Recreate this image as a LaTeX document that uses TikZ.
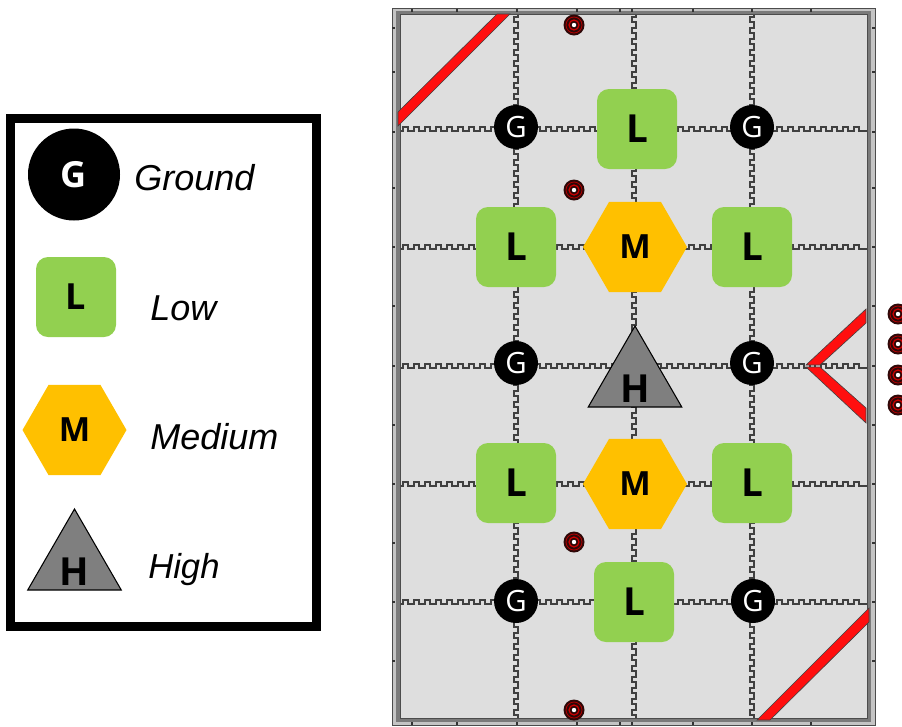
\documentclass[tikz,border=0pt]{standalone}
\usepackage{fontspec}
\setmainfont{Open Sans}
\newfontfamily\legendfont{Liberation Sans}
\usetikzlibrary{shapes.geometric, positioning}
\definecolor{tilegray}{HTML}{DEDEDE}
\definecolor{framegray}{HTML}{7A7A7A}
\definecolor{framelight}{HTML}{C4C4C4}
\definecolor{lowgreen}{HTML}{92D050}
\definecolor{medorange}{HTML}{FFC000}
\definecolor{highgray}{HTML}{7F7F7F}
\definecolor{tapered}{HTML}{FF0F0F}
\definecolor{conedark}{HTML}{2E0808}

\begin{document}
\begin{tikzpicture}[
  x=0.75pt, y=-0.75pt,
  ground/.style={circle, fill=black, text=white, inner sep=0pt, minimum size=33pt, font=\fontsize{22}{26}\selectfont},
  low/.style={rectangle, rounded corners=9pt, fill=lowgreen, inner sep=0pt, minimum size=60pt, font=\fontsize{29}{34}\selectfont\bfseries},
  medium/.style={regular polygon, regular polygon sides=6, fill=medorange, inner sep=0pt, minimum size=78pt, font=\fontsize{25}{30}\selectfont\bfseries},
  high/.style={regular polygon, regular polygon sides=3, fill=highgray, draw=black, line width=0.8pt, inner sep=0pt, minimum size=81pt},
  highlabel/.style={inner sep=0pt, font=\fontsize{29}{34}\selectfont\bfseries},
  legendtext/.style={inner sep=0pt, anchor=west, font=\legendfont\fontsize{27}{32}\selectfont\itshape},
  joint/.style={draw=black!75, line width=0.8pt},
  strip/.style={fill=tapered, draw=black!75, line width=0.45pt},
]
\useasboundingbox (0,0) rectangle (902,726);

% field
\fill[tilegray] (396,12) rectangle (871,722);

% tile joints
\foreach \y in {131,249,368,486,604} {
  \draw[joint] (400,\y) foreach \k in {1,...,42} {-- ++(3,0) -- ++(0,-4) -- ++(5,0) -- ++(0,4) -- ++(3,0)} -- (867,\y);
}
\foreach \x in {518,636,754} {
  \draw[joint] (\x,14) foreach \k in {1,...,64} {-- ++(0,3) -- ++(-4,0) -- ++(0,5) -- ++(4,0) -- ++(0,3)};
}

% frame
\draw[framelight, line width=3pt] (394,10.5) rectangle (873,723.5);
\draw[framegray, line width=2.6pt] (398,12.5) rectangle (869,720);
\draw[black!70, line width=0.6pt] (392,8.5) rectangle (875,725);
\draw[black!70, line width=0.6pt] (400,14) rectangle (867,718);
\foreach \x in {412,457,517,577,620,632,693,752,811} {
  \draw[black!80, line width=0.9pt] (\x,8.5) -- ++(0,3);
  \draw[black!80, line width=0.9pt] (\x,722) -- ++(0,3);
}
\foreach \y in {28,72,132,188,247,306,366,425,484,543,602,661} {
  \draw[black!80, line width=0.9pt] (392,\y) -- ++(3,0);
  \draw[black!80, line width=0.9pt] (872,\y) -- ++(3,0);
}

% taped lines
\draw[strip] (398,112) -- (497,14) -- (510,14) -- (398,126) -- cycle;
\draw[strip] (869,608) -- (869,622) -- (770,720) -- (757,720) -- cycle;
\draw[strip] (806,365) -- (866,309) -- (866,323) -- (820,365) -- cycle;
\draw[strip] (806,367) -- (820,367) -- (866,408) -- (866,423) -- cycle;

% cones
\foreach \x/\y in {574/25, 574/190, 574/542, 574/710, 898/314, 898/344, 898/375, 898/405} {
  \fill[conedark] (\x,\y) circle (10.5);
  \draw[red!70!black, line width=0.6pt] (\x,\y) circle (8);
  \draw[red!80!black, line width=0.9pt] (\x,\y) circle (5);
  \fill[white] (\x,\y) circle (2.2);
}

% field junctions
\node[ground] (g1) at (516,127) {G};
\node[ground] (g2) at (752,127) {G};
\node[ground] (g3) at (516,363) {G};
\node[ground] (g4) at (752,363) {G};
\node[ground] (g5) at (516,601) {G};
\node[ground] (g6) at (753,601) {G};

\node[low] (l1) at (637,129) {L};
\node[low] (l2) at (516,247) {L};
\node[low] (l3) at (752,247) {L};
\node[low] (l4) at (516,483) {L};
\node[low] (l5) at (752,483) {L};
\node[low] (l6) at (634,602) {L};

\node[medium] (m1) at (635,247) {M};
\node[medium] (m2) at (635,484) {M};

\node[high] (h1) at (635,380) {};
\node[highlabel] (h1text) at (635,389) {H};

% legend
\draw[black, line width=6.75pt] (10.5,118) rectangle (316.5,626);

\node[ground, minimum size=69pt, font=\fontsize{27}{32}\selectfont\bfseries] (legG) at (74,174.5) {G};
\node[low, font=\fontsize{27}{32}\selectfont\bfseries] (legL) at (76,297) {L};
\node[medium, font=\fontsize{25}{30}\selectfont\bfseries] (legM) at (74.5,430) {M};
\node[high] (legH) at (74.5,563) {};
\node[highlabel] (legHtext) at (74,572) {H};

\node[legendtext] (txtG) at (134,178) {Ground};
\node[legendtext] (txtL) at (150,308) {Low};
\node[legendtext] (txtM) at (150,437) {Medium};
\node[legendtext, font=\legendfont\fontsize{26}{31}\selectfont\itshape] (txtH) at (148,570) {High};
\end{tikzpicture}
\end{document}
